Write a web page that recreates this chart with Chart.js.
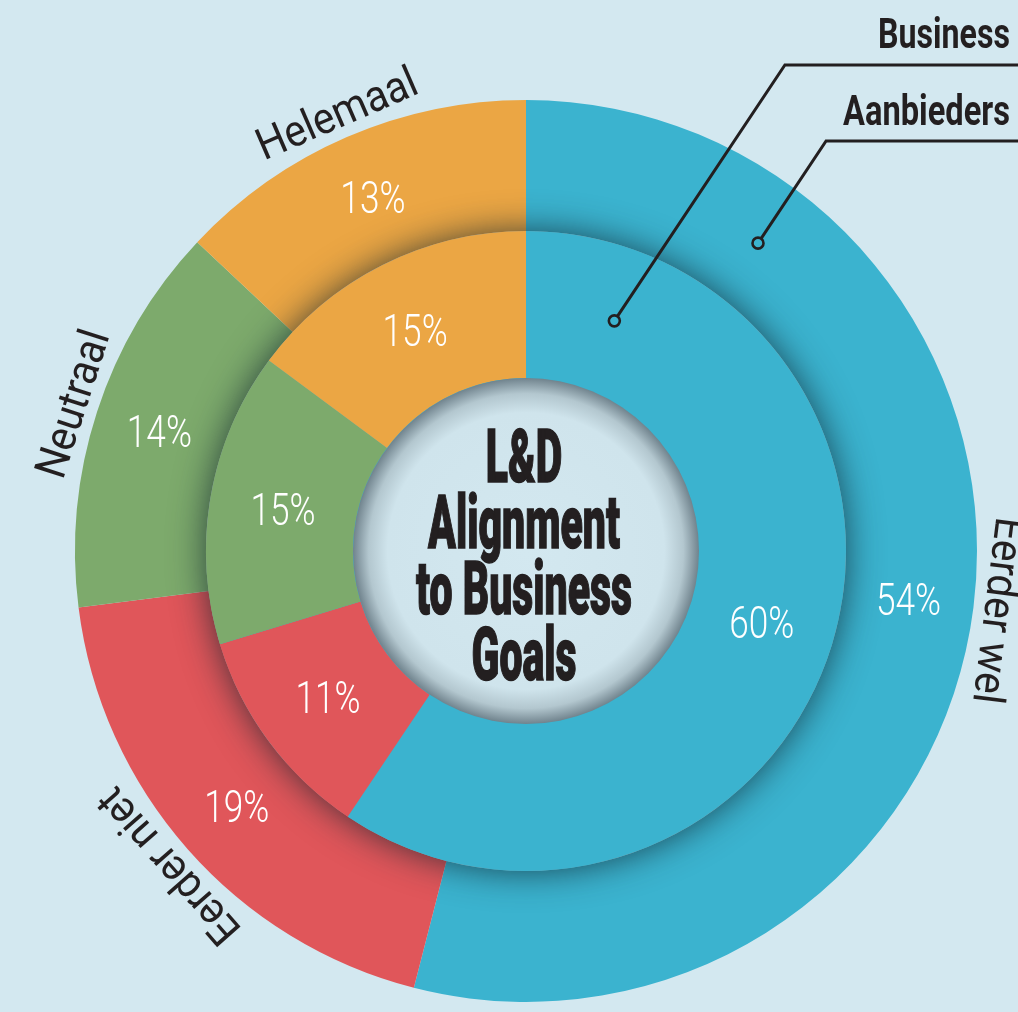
<!DOCTYPE html>
<html>
<head>
<meta charset="utf-8">
<title>L&amp;D Alignment to Business Goals</title>
<script src="https://cdn.jsdelivr.net/npm/chart.js@4.4.1/dist/chart.umd.min.js"></script>
<style>
    html, body { margin: 0; padding: 0; background: #d3e8f0; }
    #wrap { width: 1018px; height: 1012px; position: relative; overflow: hidden; }
</style>
</head>
<body>
<div id="wrap"><canvas id="ldChart" width="1018" height="1012"></canvas></div>
<script>
// data (outer ring = Aanbieders, inner ring = Business)
var categories = ['Eerder wel', 'Eerder niet', 'Neutraal', 'Helemaal'];
var aanbiedersValues = [54, 19, 14, 13];
var businessValues = [60, 11, 15, 15];
var seriesNames = ['Aanbieders', 'Business'];
var sliceColors = ['#3bb3cf', '#e0565a', '#7daa6c', '#eba644'];
var titleLines = ['L&D', 'Alignment', 'to Business', 'Goals'];

(function () {
    'use strict';

    var INK = '#231f20';

    function capOf(size) { return size * 0.71; }

    // draws text horizontally squeezed so it fits a target width
    function squeezeText(ctx, text, x, y, rot, sx) {
        ctx.save();
        ctx.translate(x, y);
        ctx.rotate(rot);
        ctx.scale(sx, 1);
        ctx.fillText(text, 0, 0);
        ctx.restore();
    }

    function arcProps(el) {
        return el.getProps(['x', 'y', 'startAngle', 'endAngle', 'innerRadius', 'outerRadius'], true);
    }

    var ringDecor = {
        id: 'ringDecor',
        beforeDatasetDraw: function (chart, args) {
            // inner ring throws a soft shadow on the outer ring
            if (args.index !== 1) return;
            var a = arcProps(args.meta.data[0]);
            var ctx = chart.ctx;
            ctx.save();
            ctx.shadowColor = 'rgba(15, 35, 45, 0.8)';
            ctx.shadowBlur = 36;
            ctx.fillStyle = sliceColors[0];
            ctx.beginPath();
            ctx.arc(a.x, a.y, a.outerRadius - 1, 0, Math.PI * 2);
            ctx.fill();
            ctx.restore();
        },
        afterDatasetsDraw: function (chart) {
            var ctx = chart.ctx;
            var outerMeta = chart.getDatasetMeta(0);
            var innerMeta = chart.getDatasetMeta(1);
            var inner0 = arcProps(innerMeta.data[0]);
            var outer0 = arcProps(outerMeta.data[0]);
            var cx = inner0.x, cy = inner0.y;
            var hole = inner0.innerRadius;

            // centre disc
            var g = ctx.createRadialGradient(cx, cy, 0, cx, cy, hole);
            g.addColorStop(0, '#d3e8f0');
            g.addColorStop(0.8, '#cfe4ec');
            g.addColorStop(0.91, '#b3c7cf');
            g.addColorStop(1, '#70838d');
            ctx.save();
            ctx.fillStyle = g;
            ctx.beginPath();
            ctx.arc(cx, cy, hole, 0, Math.PI * 2);
            ctx.fill();
            ctx.restore();

            // centre title
            ctx.save();
            ctx.fillStyle = INK;
            ctx.strokeStyle = INK;
            ctx.textAlign = 'center';
            ctx.textBaseline = 'alphabetic';
            ctx.font = '900 74px Roboto, "DejaVu Sans", sans-serif';
            var tsx = 216 / ctx.measureText(titleLines[2]).width;
            titleLines.forEach(function (line, i) {
                ctx.save();
                ctx.translate(cx - 2, cy - 69 + 66 * i);
                ctx.scale(tsx, 1);
                ctx.lineWidth = 1.5;
                ctx.fillText(line, 0, 0);
                ctx.strokeText(line, 0, 0);
                ctx.restore();
            });
            ctx.restore();

            // percentage labels inside the slices
            ctx.save();
            ctx.fillStyle = '#ffffff';
            ctx.textAlign = 'center';
            ctx.textBaseline = 'alphabetic';
            var pSize = 44;
            ctx.font = '300 ' + pSize + 'px Roboto, "Open Sans", sans-serif';
            [outerMeta, innerMeta].forEach(function (meta, di) {
                var vals = chart.data.datasets[di].data;
                meta.data.forEach(function (el, i) {
                    var p = arcProps(el);
                    var mid = (p.startAngle + p.endAngle) / 2;
                    var r = (p.innerRadius + p.outerRadius) / 2;
                    var x = p.x + Math.cos(mid) * r;
                    var y = p.y + Math.sin(mid) * r;
                    squeezeText(ctx, vals[i] + '%', x, y + capOf(pSize) / 2, 0, 0.8);
                });
            });
            ctx.restore();

            // category names round the outside, along the tangent
            ctx.save();
            ctx.fillStyle = INK;
            ctx.textAlign = 'center';
            ctx.textBaseline = 'alphabetic';
            var cSize = 44;
            ctx.font = '400 ' + cSize + 'px Roboto, "Open Sans", sans-serif';
            outerMeta.data.forEach(function (el, i) {
                var p = arcProps(el);
                var mid = (p.startAngle + p.endAngle) / 2;
                var r = p.outerRadius + 27;
                var x = p.x + Math.cos(mid) * r;
                var y = p.y + Math.sin(mid) * r;
                ctx.save();
                ctx.translate(x, y);
                ctx.rotate(mid + Math.PI / 2);
                ctx.scale(0.92, 1);
                ctx.fillText(chart.data.labels[i], 0, capOf(cSize) / 2);
                ctx.restore();
            });
            ctx.restore();

            // series callouts (top right)
            var callouts = [
                { name: seriesNames[1], ring: inner0, deg: 21, baseline: 48, lineY: 65 },
                { name: seriesNames[0], ring: outer0, deg: 37, baseline: 125, lineY: 141 }
            ];
            ctx.save();
            ctx.font = '700 42px Roboto, "DejaVu Sans", sans-serif';
            ctx.textAlign = 'right';
            ctx.textBaseline = 'alphabetic';
            ctx.fillStyle = INK;
            ctx.strokeStyle = INK;
            ctx.lineWidth = 3;
            ctx.lineCap = 'butt';
            var W = chart.width;
            callouts.forEach(function (c) {
                var a = c.deg * Math.PI / 180 - Math.PI / 2;
                var r = (c.ring.innerRadius + c.ring.outerRadius) / 2;
                var dx = c.ring.x + Math.cos(a) * r;
                var dy = c.ring.y + Math.sin(a) * r;
                var slope = 1.5;
                var ex = dx + (dy - c.lineY) / slope;
                var dirx = ex - dx, diry = c.lineY - dy;
                var len = Math.sqrt(dirx * dirx + diry * diry);
                var dotR = 5.5;

                ctx.beginPath();
                ctx.moveTo(dx + dirx / len * dotR, dy + diry / len * dotR);
                ctx.lineTo(ex, c.lineY);
                ctx.lineTo(W, c.lineY);
                ctx.stroke();

                ctx.lineWidth = 2.6;
                ctx.beginPath();
                ctx.arc(dx, dy, dotR, 0, Math.PI * 2);
                ctx.stroke();
                ctx.lineWidth = 3;

                var tw = ctx.measureText(c.name).width;
                var sx = c.name === seriesNames[1] ? 132 / tw : 167 / tw;
                ctx.save();
                ctx.translate(W - 8, c.baseline);
                ctx.scale(sx, 1);
                ctx.fillText(c.name, 0, 0);
                ctx.restore();
            });
            ctx.restore();
        }
    };

    var el = document.getElementById('ldChart');
    new Chart(el, {
        type: 'doughnut',
        data: {
            labels: categories,
            datasets: [
                {
                    label: seriesNames[0],
                    data: aanbiedersValues,
                    backgroundColor: sliceColors,
                    borderWidth: 0,
                    weight: 131,
                    order: 1
                },
                {
                    label: seriesNames[1],
                    data: businessValues,
                    backgroundColor: sliceColors,
                    borderWidth: 0,
                    weight: 147,
                    order: 0
                }
            ]
        },
        options: {
            responsive: false,
            animation: false,
            devicePixelRatio: 1,
            cutout: 173,
            rotation: 0,
            layout: { padding: { left: 75, right: 41, top: 100, bottom: 10 } },
            events: [],
            plugins: {
                legend: { display: false },
                tooltip: { enabled: false }
            }
        },
        plugins: [ringDecor]
    });
})();
</script>
</body>
</html>
